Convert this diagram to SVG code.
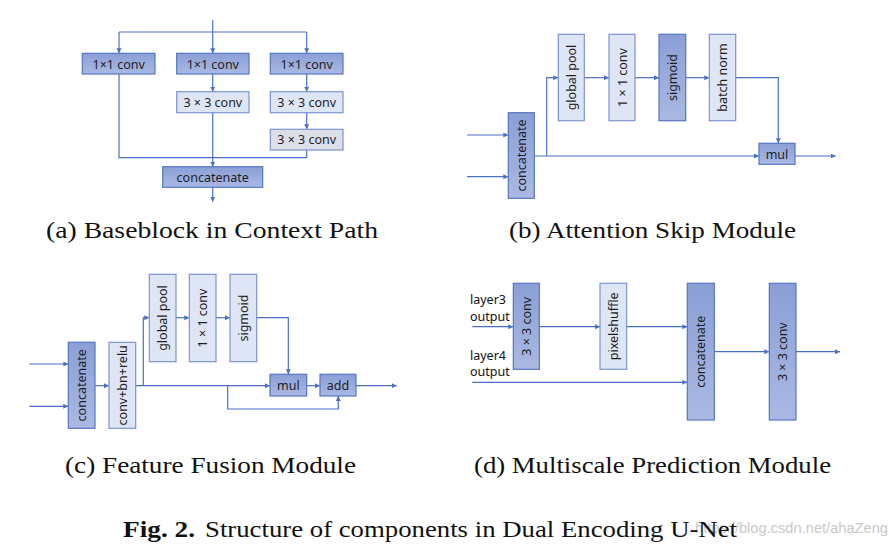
<svg xmlns="http://www.w3.org/2000/svg" width="895" height="548" viewBox="0 0 895 548">
<style>
.dk{fill:url(#gd);stroke:#5575c2;stroke-width:1.2}
.lt{fill:#dee5f4;stroke:#7b94cf;stroke-width:1.2}
.gy{fill:#dcdfe8;stroke:#7b94cf;stroke-width:1.2}
.t{font-family:"Noto Sans","DejaVu Sans",sans-serif;font-size:12.5px;fill:#1e1e1e;text-anchor:middle;dominant-baseline:central}
.cap{font-family:"Liberation Serif","DejaVu Serif",serif;font-size:23px;fill:#111}
.ln{fill:none;stroke:#4a70c2;stroke-width:1.2}
.lab{font-family:"Noto Sans","DejaVu Sans",sans-serif;font-size:12.5px;fill:#111}
</style>
<defs>
<linearGradient id="gd" x1="0" y1="0" x2="0" y2="1">
<stop offset="0" stop-color="#8a9fd6"/>
<stop offset="1" stop-color="#aab9e3"/>
</linearGradient>
<marker id="ar" markerUnits="userSpaceOnUse" markerWidth="6" markerHeight="6" refX="5" refY="2.5" orient="auto">
<path d="M0,0 L5,2.5 L0,5 z" fill="#4a70c2"/>
</marker>
</defs>
<rect width="895" height="548" fill="#fff"/>

<g id="connectors">
<!-- (a) -->
<path class="ln" d="M212.7,20 V32 M119,32 H306.7"/>
<path class="ln" d="M119,32 V53.3" marker-end="url(#ar)"/>
<path class="ln" d="M212.7,32 V53.3" marker-end="url(#ar)"/>
<path class="ln" d="M306.7,32 V53.3" marker-end="url(#ar)"/>
<path class="ln" d="M212.7,74 V91.7" marker-end="url(#ar)"/>
<path class="ln" d="M306.7,74 V91.7" marker-end="url(#ar)"/>
<path class="ln" d="M306.7,112.7 V129.3" marker-end="url(#ar)"/>
<path class="ln" d="M119,74 V157.7 H306.7 V150"/>
<path class="ln" d="M212.7,112.7 V166.7" marker-end="url(#ar)"/>
<path class="ln" d="M212.7,187.3 V201.7" marker-end="url(#ar)"/>
<!-- (b) -->
<path class="ln" d="M467,135 H508.3" marker-end="url(#ar)"/>
<path class="ln" d="M467,176.7 H508.3" marker-end="url(#ar)"/>
<path class="ln" d="M534.3,156 H759" marker-end="url(#ar)"/>
<path class="ln" d="M546.7,156 V77.7 H558.3" marker-end="url(#ar)"/>
<path class="ln" d="M584.3,77.7 H609" marker-end="url(#ar)"/>
<path class="ln" d="M635,77.7 H659" marker-end="url(#ar)"/>
<path class="ln" d="M685.7,77.7 H709.3" marker-end="url(#ar)"/>
<path class="ln" d="M735.7,77.7 H778.3 V143.3" marker-end="url(#ar)"/>
<path class="ln" d="M795,156 H835.7" marker-end="url(#ar)"/>
<!-- (c) -->
<path class="ln" d="M29.3,364 H68.3" marker-end="url(#ar)"/>
<path class="ln" d="M29.3,406.3 H68.3" marker-end="url(#ar)"/>
<path class="ln" d="M95,385.7 H109" marker-end="url(#ar)"/>
<path class="ln" d="M135.7,385.7 H270" marker-end="url(#ar)"/>
<path class="ln" d="M143.3,385.7 V317.7 H149.3" marker-end="url(#ar)"/>
<path class="ln" d="M176,317.7 H189.3" marker-end="url(#ar)"/>
<path class="ln" d="M216,317.7 H230" marker-end="url(#ar)"/>
<path class="ln" d="M256.7,317.7 H288.3 V374.3" marker-end="url(#ar)"/>
<path class="ln" d="M306.7,385.7 H320" marker-end="url(#ar)"/>
<path class="ln" d="M227.7,385.7 V409 H338.3 V396" marker-end="url(#ar)"/>
<path class="ln" d="M356,385.7 H396.7" marker-end="url(#ar)"/>
<!-- (d) -->
<path class="ln" d="M472.3,326.7 H513.3" marker-end="url(#ar)"/>
<path class="ln" d="M539.3,326.7 H600" marker-end="url(#ar)"/>
<path class="ln" d="M626.7,326.7 H687.3" marker-end="url(#ar)"/>
<path class="ln" d="M472.3,382.3 H687.3" marker-end="url(#ar)"/>
<path class="ln" d="M714.3,351.7 H769.3" marker-end="url(#ar)"/>
<path class="ln" d="M796,351.7 H840" marker-end="url(#ar)"/>
</g>

<!-- (a) nodes -->
<g id="a-conv1a"><rect class="dk" x="82.3" y="53.3" width="72.7" height="20.7"/><text class="t" x="118.7" y="64">1×1 conv</text></g>
<g id="a-conv1b"><rect class="dk" x="176.7" y="53.3" width="72.3" height="20.7"/><text class="t" x="212.8" y="64">1×1 conv</text></g>
<g id="a-conv1c"><rect class="dk" x="270.3" y="53.3" width="72.7" height="20.7"/><text class="t" x="306.7" y="64">1×1 conv</text></g>
<g id="a-conv3b"><rect class="lt" x="176.7" y="91.7" width="72.3" height="21"/><text class="t" x="212.8" y="102.2">3 × 3 conv</text></g>
<g id="a-conv3c"><rect class="lt" x="270.3" y="91.7" width="72.7" height="21"/><text class="t" x="306.7" y="102.2">3 × 3 conv</text></g>
<g id="a-conv3d"><rect class="gy" x="270.3" y="129.3" width="72.7" height="20.7"/><text class="t" x="306.7" y="139.7">3 × 3 conv</text></g>
<g id="a-concat"><rect class="dk" x="162.7" y="166.7" width="100" height="20.6"/><text class="t" x="212.7" y="177">concatenate</text></g>

<!-- (b) nodes -->
<g id="b-concat"><rect class="dk" x="508.3" y="112.7" width="26" height="85.6"/><text class="t" transform="translate(521.3,155.5) rotate(-90)">concatenate</text></g>
<g id="b-gpool"><rect class="lt" x="558.3" y="34.3" width="26" height="86.4"/><text class="t" transform="translate(571.3,77.5) rotate(-90)">global pool</text></g>
<g id="b-conv"><rect class="lt" x="609" y="34.3" width="26" height="86.4"/><text class="t" transform="translate(622,77.5) rotate(-90)">1 × 1 conv</text></g>
<g id="b-sigmoid"><rect class="dk" x="659" y="34.3" width="26.7" height="86.4"/><text class="t" transform="translate(672.3,77.5) rotate(-90)">sigmoid</text></g>
<g id="b-bn"><rect class="lt" x="709.3" y="34.3" width="26.4" height="86.4"/><text class="t" transform="translate(722.5,77.5) rotate(-90)">batch norm</text></g>
<g id="b-mul"><rect class="dk" x="759" y="143.3" width="36" height="21"/><text class="t" x="777" y="154">mul</text></g>

<!-- (c) nodes -->
<g id="c-concat"><rect class="dk" x="68.3" y="342.3" width="26.7" height="86"/><text class="t" transform="translate(81.7,385.3) rotate(-90)">concatenate</text></g>
<g id="c-cbr"><rect class="lt" x="109" y="342.3" width="26.7" height="86"/><text class="t" transform="translate(122.3,385.3) rotate(-90)">conv+bn+relu</text></g>
<g id="c-gpool"><rect class="lt" x="149.3" y="274.3" width="26.7" height="87.4"/><text class="t" transform="translate(162.7,318) rotate(-90)">global pool</text></g>
<g id="c-conv"><rect class="lt" x="189.3" y="274.3" width="26.7" height="87.4"/><text class="t" transform="translate(202.7,318) rotate(-90)">1 × 1 conv</text></g>
<g id="c-sigmoid"><rect class="lt" x="230" y="274.3" width="26.7" height="87.4"/><text class="t" transform="translate(243.3,318) rotate(-90)">sigmoid</text></g>
<g id="c-mul"><rect class="dk" x="270" y="374.3" width="36.7" height="21.7"/><text class="t" x="288.3" y="385.2">mul</text></g>
<g id="c-add"><rect class="dk" x="320" y="374.3" width="36" height="21.7"/><text class="t" x="338" y="385.2">add</text></g>

<!-- (d) nodes -->
<g id="d-labels">
<text class="lab" x="470" y="304">layer3</text>
<text class="lab" x="470" y="320.5">output</text>
<text class="lab" x="470" y="359.5">layer4</text>
<text class="lab" x="470" y="376">output</text>
</g>
<g id="d-conv1"><rect class="dk" x="513.3" y="283.3" width="26" height="86"/><text class="t" transform="translate(526.3,326.3) rotate(-90)">3 × 3 conv</text></g>
<g id="d-pixel"><rect class="lt" x="600" y="283.3" width="26.7" height="86"/><text class="t" transform="translate(613.3,326.3) rotate(-90)">pixelshuffle</text></g>
<g id="d-concat"><rect class="dk" x="687.3" y="283.3" width="27" height="136.7"/><text class="t" transform="translate(700.8,351.7) rotate(-90)">concatenate</text></g>
<g id="d-conv2"><rect class="dk" x="769.3" y="283.3" width="26.7" height="136.7"/><text class="t" transform="translate(782.7,351.7) rotate(-90)">3 × 3 conv</text></g>

<!-- captions -->
<g id="captions">
<text class="cap" x="46" y="238" textLength="332" lengthAdjust="spacingAndGlyphs">(a) Baseblock in Context Path</text>
<text class="cap" x="509" y="238" textLength="287" lengthAdjust="spacingAndGlyphs">(b) Attention Skip Module</text>
<text class="cap" x="65" y="473" textLength="291" lengthAdjust="spacingAndGlyphs">(c) Feature Fusion Module</text>
<text class="cap" x="474" y="473" textLength="357" lengthAdjust="spacingAndGlyphs">(d) Multiscale Prediction Module</text>
<text font-family="Liberation Sans, sans-serif" font-size="14" fill="#c8c8c8" x="695" y="533" textLength="193" lengthAdjust="spacingAndGlyphs">https://blog.csdn.net/ahaZeng</text>
<text class="cap" x="123" y="537" font-weight="bold" textLength="72" lengthAdjust="spacingAndGlyphs">Fig. 2.</text>
<text class="cap" x="205" y="537" textLength="532" lengthAdjust="spacingAndGlyphs">Structure of components in Dual Encoding U-Net</text>
</g>
</svg>
